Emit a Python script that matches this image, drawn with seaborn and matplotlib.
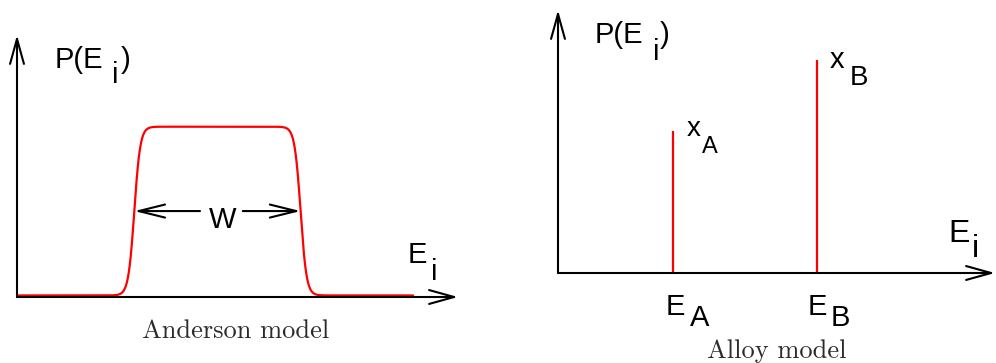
import numpy as np
import matplotlib
matplotlib.use("Agg")
import matplotlib.pyplot as plt
import seaborn as sns

# ---- model parameters -------------------------------------------------
# Anderson model: flat distribution of site energies of width W
band_lower = 2.66        # lower band edge (energy units)
band_upper = 6.43        # upper band edge
plateau = 0.65           # P(E_i) inside the band
floor = 0.006            # P(E_i) outside the band
edge_softness = 0.068    # rounding of the band edges
energy_range = (0.02, 8.98)

# Alloy model: two site energies with concentrations x_A, x_B
alloy_levels = ["A", "B"]
alloy_energies = [2.63, 5.93]
alloy_weights = [0.40, 0.60]

sns.set_theme(style="white")
plt.rcParams["font.family"] = ["Liberation Sans", "DejaVu Sans"]

W_PX, H_PX = 996, 363
fig = plt.figure(figsize=(W_PX / 100, H_PX / 100), dpi=100)


def px_axes(left, top, right, bottom):
    """Axes placed by pixel edges of the figure."""
    return fig.add_axes([left / W_PX, 1 - bottom / H_PX,
                         (right - left) / W_PX, (bottom - top) / H_PX])


def put(x, y, s, size=21, **kw):
    """Text anchored at its left baseline, given in figure pixels."""
    kw.setdefault("ha", "left")
    kw.setdefault("va", "baseline")
    kw.setdefault("color", "black")
    fig.text(x / W_PX, 1 - y / H_PX, s, fontsize=size, **kw)


def axis_arrows(ax):
    style = "->,head_length=18,head_width=5"
    for tip in [(1, 0), (0, 1)]:
        ax.annotate("", xy=tip, xytext=(0, 0), xycoords="axes fraction",
                    textcoords="axes fraction",
                    arrowprops=dict(arrowstyle=style, mutation_scale=1,
                                    lw=1.5, color="black",
                                    shrinkA=0, shrinkB=0),
                    annotation_clip=False)


# ---- left panel: Anderson model --------------------------------------
ax1 = px_axes(17, 35, 458, 297)
ax1.set_xlim(0, 10)
ax1.set_ylim(0, 1)
ax1.set_axis_off()

energy = np.linspace(*energy_range, 1200)
rise = 1 / (1 + np.exp(-(energy - band_lower) / edge_softness))
fall = 1 / (1 + np.exp((energy - band_upper) / edge_softness))
prob = floor + (plateau - floor) * rise * fall
sns.lineplot(x=energy, y=prob, ax=ax1, color="red", lw=1.6, legend=False)
axis_arrows(ax1)

# width marker between the two band edges
mid = (plateau + floor) / 2
w_style = "->,head_length=19,head_width=4.7"
for start, end in [(4.15, band_lower), (5.12, band_upper)]:
    ax1.annotate("", xy=(end, mid), xytext=(start, mid),
                 arrowprops=dict(arrowstyle=w_style, mutation_scale=1,
                                 lw=1.5, color="black",
                                 shrinkA=0, shrinkB=0))
put(209, 228, "W")

put(55, 68, "P(E")
put(112, 83, "i")
put(121, 68, ")")
put(408, 263, "E")
put(431, 280, "i")
put(236, 338, "Anderson model", size=19, ha="center", family="cmr10",
    color="#2b2b2b")

# ---- right panel: alloy model ----------------------------------------
ax2 = px_axes(558, 10, 995, 273)
ax2.set_xlim(0, 10)
ax2.set_ylim(0, 0.741)
ax2.set_axis_off()
ax2.vlines(alloy_energies, 0, alloy_weights, color="red", lw=1.6)
axis_arrows(ax2)

put(595, 43, "P(E")
put(653, 60, "i")
put(660, 43, ")")
put(948, 242, "E", size=23)
put(972, 257, "i", size=23)

put(666, 315, "E")
put(690, 326, "A")
put(808, 315, "E")
put(831, 326, "B")

put(687, 136, "x", size=20)
put(702, 153, "A", size=17)
put(830, 68, "x", size=21)
put(850, 85, "B", size=20)

put(777, 358, "Alloy model", size=19, ha="center", family="cmr10",
    color="#2b2b2b")

fig.savefig("out.png", dpi=100)
